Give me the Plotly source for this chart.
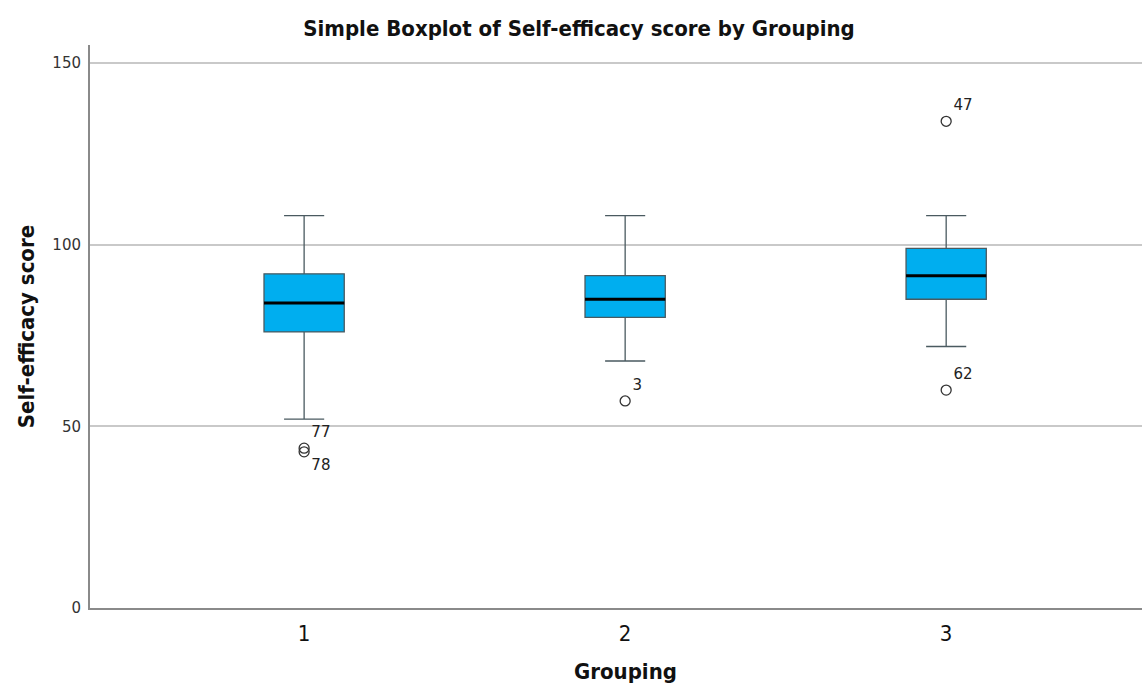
import plotly.graph_objects as go

# ---- data ----
groups = [1, 2, 3]
q1 = [76, 80, 85]
median = [84, 85, 91.5]
q3 = [92, 91.5, 99]
lower_whisker = [52, 68, 72]
upper_whisker = [108, 108, 108]

outlier_group = [1, 1, 2, 3, 3]
outlier_value = [44, 43, 57, 134, 60]
outlier_label = ["77", "78", "3", "47", "62"]
outlier_textpos = ["top right", "bottom right", "top right", "top right", "top right"]

tick_vals_y = [0, 50, 100, 150]

BOX_W = 0.25
FILL = "#00AEEF"
EDGE = "#4a5a60"

fig = go.Figure()

fig.add_trace(go.Box(
    x=groups, q1=q1, median=median, q3=q3,
    lowerfence=lower_whisker, upperfence=upper_whisker,
    width=BOX_W, whiskerwidth=0.5,
    fillcolor=FILL, line=dict(color=EDGE, width=1.3),
    boxpoints=False, showlegend=False, hoverinfo="skip",
))

# thick black median lines
for g, m in zip(groups, median):
    fig.add_trace(go.Scatter(
        x=[g - BOX_W / 2, g + BOX_W / 2], y=[m, m], mode="lines",
        line=dict(color="black", width=3), showlegend=False, hoverinfo="skip",
    ))

# outliers
fig.add_trace(go.Scatter(
    x=outlier_group, y=outlier_value, mode="markers+text",
    marker=dict(symbol="circle-open", size=10, color="#333333", line=dict(width=1.3)),
    text=outlier_label, textposition=outlier_textpos,
    textfont=dict(family="DejaVu Sans", size=15, color="#222222"),
    showlegend=False, hoverinfo="skip", cliponaxis=False,
))

fig.update_layout(
    width=1142, height=684,
    paper_bgcolor="white", plot_bgcolor="white",
    margin=dict(l=90, r=0, t=45, b=76),
    title=dict(
        text="<b>Simple Boxplot of Self-efficacy score by Grouping</b>",
        x=0.507, xanchor="center", y=0.958, yanchor="middle",
        font=dict(family="DejaVu Sans Condensed", size=22, color="#111111"),
    ),
    font=dict(family="DejaVu Sans"),
    annotations=[dict(
        text="<b>Grouping</b>", xref="paper", yref="paper",
        x=0.5086, y=-0.113, xanchor="center", yanchor="middle", showarrow=False,
        font=dict(family="DejaVu Sans Condensed", size=22, color="#111111"),
    )],
)

fig.update_xaxes(
    range=[0.333, 3.61], tickvals=groups, ticktext=[str(g) for g in groups],
    showgrid=False, zeroline=False, showline=True, linecolor="#8a8a8a", linewidth=2,
    ticks="", ticklabelstandoff=5,
    tickfont=dict(family="DejaVu Sans Condensed", size=22, color="#111111"),
)

fig.update_yaxes(
    range=[0, 155], tickvals=tick_vals_y,
    showgrid=True, gridcolor="#c9c9c9", gridwidth=1.5,
    zeroline=False, showline=True, linecolor="#8a8a8a", linewidth=2,
    ticks="", ticklen=0, ticklabelstandoff=4,
    tickfont=dict(family="DejaVu Sans", size=15, color="#333333"),
    title=dict(text="<b>Self-efficacy score</b>", standoff=12,
               font=dict(family="DejaVu Sans Condensed", size=22, color="#111111")),
)

fig.write_html(
    "out.html",
    config={"displayModeBar": False},
    post_script="document.body.style.margin='0';document.body.style.overflow='hidden';",
)
